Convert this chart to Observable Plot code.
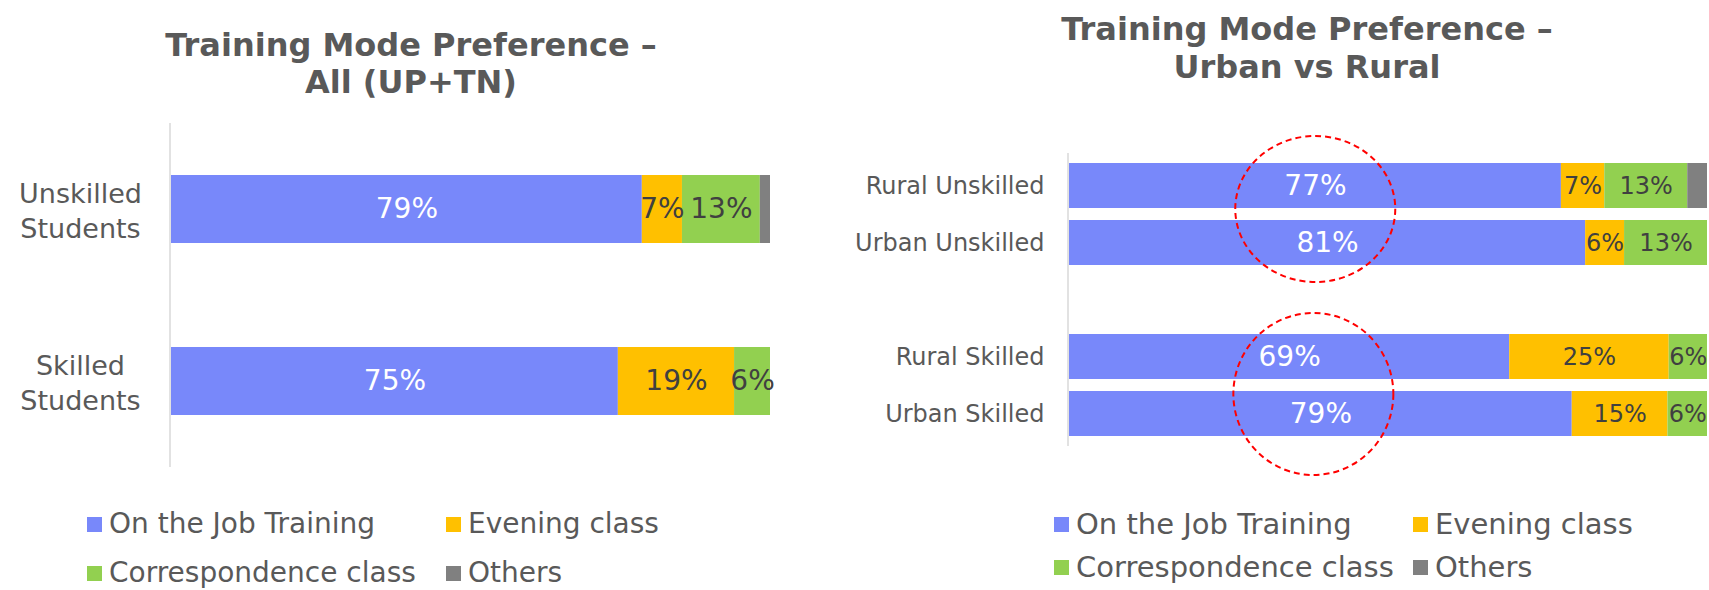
<!DOCTYPE html>
<html><head><meta charset="utf-8">
<script src="https://cdn.jsdelivr.net/npm/d3@7"></script>
<script src="https://cdn.jsdelivr.net/npm/@observablehq/plot@0.6"></script>
<style>
body{margin:0;background:#fff;}
#root{position:relative;width:1709px;height:590px;overflow:hidden;font-family:"DejaVu Sans",Verdana,sans-serif;}
.title{position:absolute;font-weight:bold;color:#595959;text-align:center;font-size:32px;white-space:nowrap;transform:translateX(-50%);}
.item{position:absolute;display:flex;align-items:center;white-space:nowrap;color:#595959;height:34px;line-height:34px;}
.sw{width:15px;height:15px;margin-right:7px;flex:none;}
.plot{position:absolute;}
</style></head><body><div id="root"></div>
<script>
// ---- data ----
const seriesNames = ["On the Job Training", "Evening class", "Correspondence class", "Others"];
const seriesColors = ["#7888FA", "#FFC000", "#92D050", "#808080"];

const leftTitle = ["Training Mode Preference \u2013", "All (UP+TN)"];
const leftRows = ["Unskilled Students", "Skilled Students"];
const leftOnJob = [78.6, 74.6];
const leftEvening = [6.7, 19.4];
const leftCorrespondence = [13.0, 6.0];
const leftOthers = [1.7, 0];

const rightTitle = ["Training Mode Preference \u2013", "Urban vs Rural"];
const rightRows = ["Rural Unskilled", "Urban Unskilled", "Rural Skilled", "Urban Skilled"];
const rightOnJob = [77.1, 80.9, 69.0, 78.8];
const rightEvening = [6.8, 6.1, 25.0, 15.0];
const rightCorrespondence = [13.0, 13.0, 6.0, 6.2];
const rightOthers = [3.1, 0, 0, 0];

// highlight ellipses (annotation): row pairs and x value (percent)
const ellipseRows = [["Rural Unskilled", "Urban Unskilled"], ["Rural Skilled", "Urban Skilled"]];
const ellipseX = [38.6, 38.3];

// ---- helpers ----
const root = document.getElementById("root");
function table(rows, arrays) {
  return rows.flatMap((r, i) => seriesNames.map((s, j) => ({row: r, series: s, value: arrays[j][i]})));
}
function addTitle(lines, cx, top, lh) {
  const d = document.createElement("div");
  d.className = "title";
  d.style.left = cx + "px"; d.style.top = top + "px"; d.style.lineHeight = lh + "px";
  d.innerHTML = lines.join("<br>");
  root.appendChild(d);
}
function addLegend(x0, yc, colW, rowH, fs) {
  seriesNames.forEach((s, i) => {
    const it = document.createElement("div");
    it.className = "item";
    it.style.left = (x0 + (i % 2) * colW) + "px";
    it.style.top = (yc + Math.floor(i / 2) * rowH - 17) + "px";
    it.style.fontSize = fs + "px";
    it.innerHTML = `<div class="sw" style="background:${seriesColors[i]}"></div><span>${s}</span>`;
    root.appendChild(it);
  });
}
function place(el, left, top) {
  el.classList.add("plot");
  el.style.left = left + "px"; el.style.top = top + "px";
  root.appendChild(el);
}
const pct = d => Math.round(d.value) + "%";
const isMain = d => d.series === seriesNames[0];
const isMinor = d => d.series !== seriesNames[0] && d.series !== seriesNames[3] && d.value > 0;
const plotStyle = {fontFamily: "DejaVu Sans, Verdana, sans-serif", fontSize: "24px", background: "transparent", overflow: "visible"};

// ---- left chart ----
const leftData = table(leftRows, [leftOnJob, leftEvening, leftCorrespondence, leftOthers]);
const stackOpts = {x: "value", y: "row", z: "series", order: seriesNames};
const leftPlot = Plot.plot({
  width: 800, height: 380,
  marginLeft: 171, marginRight: 30, marginTop: 23, marginBottom: 13,
  x: {domain: [0, 100], axis: null},
  y: {domain: leftRows, paddingInner: 0.606, paddingOuter: 0.3, axis: null},
  color: {domain: seriesNames, range: seriesColors},
  style: plotStyle,
  marks: [
    Plot.barX(leftData, Plot.stackX({...stackOpts, fill: "series"})),
    Plot.text(leftData, Plot.filter(isMain, Plot.stackX({...stackOpts, text: pct, fill: "#ffffff", fontSize: 28}))),
    Plot.text(leftData, Plot.filter(isMinor, Plot.stackX({...stackOpts, text: pct, fill: "#404040", fontSize: 28}))),
    Plot.ruleX([0], {stroke: "#d9d9d9", strokeWidth: 1.5, dx: -1.5}),
    Plot.axisY({tickSize: 0, tickPadding: 0, textAnchor: "middle", dx: -91, fontSize: 27, fill: "#595959",
      label: null, tickFormat: d => d.replace(" ", "\n"), lineHeight: 1.3})
  ]
});
place(leftPlot, 0, 100);
addTitle(leftTitle, 411, 27, 37);
addLegend(87, 524, 359, 49, 28);

// ---- right chart ----
const rightDomain = [rightRows[0], rightRows[1], "", rightRows[2], rightRows[3]];
const rightData = table(rightRows, [rightOnJob, rightEvening, rightCorrespondence, rightOthers]);
const rightPlot = Plot.plot({
  width: 849, height: 330,
  marginLeft: 209, marginRight: 2, marginTop: 23, marginBottom: 14,
  x: {domain: [0, 100], axis: null},
  y: {domain: rightDomain, paddingInner: 0.219, paddingOuter: 0.156, axis: null},
  color: {domain: seriesNames, range: seriesColors},
  style: plotStyle,
  marks: [
    Plot.barX(rightData, Plot.stackX({...stackOpts, fill: "series"})),
    Plot.text(rightData, Plot.filter(isMain, Plot.stackX({...stackOpts, text: pct, fill: "#ffffff", fontSize: 28}))),
    Plot.text(rightData, Plot.filter(isMinor, Plot.stackX({...stackOpts, text: pct, fill: "#404040", fontSize: 24}))),
    Plot.ruleX([0], {stroke: "#d9d9d9", strokeWidth: 1.5, dx: -1.5}),
    Plot.axisY({tickSize: 0, tickPadding: 25, fontSize: 24, fill: "#595959", label: null})
  ]
});
// dashed highlight ellipses positioned via the plot's scales
{
  const xs = rightPlot.scale("x"), ys = rightPlot.scale("y");
  const bw = ys.bandwidth;
  const dy = [-5, 9], ry = [73, 81];
  const svg = d3.select(rightPlot);
  ellipseRows.forEach((pair, i) => {
    const cy = (ys.apply(pair[0]) + ys.apply(pair[1]) + bw) / 2 + dy[i];
    svg.append("ellipse")
      .attr("cx", xs.apply(ellipseX[i])).attr("cy", cy)
      .attr("rx", 80).attr("ry", ry[i])
      .attr("fill", "none").attr("stroke", "#FF0000")
      .attr("stroke-width", 2).attr("stroke-dasharray", "6 4");
  });
}
place(rightPlot, 860, 130);
addTitle(rightTitle, 1307, 10, 38);
addLegend(1054, 524, 359, 43, 29);
</script></body></html>
